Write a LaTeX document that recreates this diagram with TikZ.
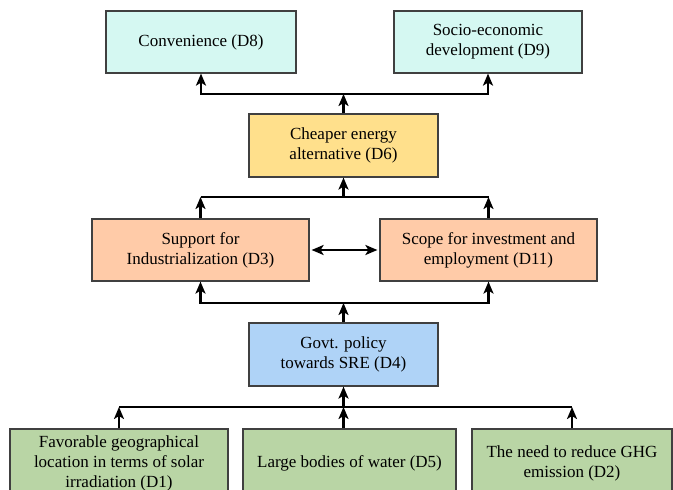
\documentclass[tikz,border=0pt]{standalone}
\usepackage{fontspec}
\setmainfont{Liberation Serif}
\newfontfamily\boxfont{Liberation Serif}
\usetikzlibrary{arrows.meta}
\definecolor{cyanbox}{HTML}{D5F8F2}
\definecolor{yellowbox}{HTML}{FFE08C}
\definecolor{peachbox}{HTML}{FFCBA8}
\definecolor{bluebox}{HTML}{AFD3F7}
\definecolor{greenbox}{HTML}{B9D5A5}
\definecolor{edge}{HTML}{404040}

\begin{document}
\begin{tikzpicture}
[x=1pt, y=-1pt, font=\boxfont\fontsize{17}{20}\selectfont,
factor/.style={draw=edge, line width=1.2pt, align=center, inner sep=0pt, minimum height=62pt},
link/.style={line width=2.2pt, -{Stealth[length=12pt,width=10pt,inset=3pt]}},
bus/.style={line width=2.2pt}]
\useasboundingbox (0,0) rectangle (673,490);
\clip (0,0) rectangle (673,490);

% top level
\node[factor, fill=cyanbox, minimum width=190pt] (d8) at (201,42) {Convenience (D8)};
\node[factor, fill=cyanbox, minimum width=188pt] (d9) at (488,42) {Socio-economic\\development (D9)};
\node[factor, fill=yellowbox, minimum width=189pt, minimum height=63pt] (d6) at (343.5,145.5) {Cheaper energy\\alternative (D6)};
% middle level
\node[factor, fill=peachbox, minimum width=217pt] (d3) at (200.5,250) {Support for\\Industrialization (D3)};
\node[factor, fill=peachbox, minimum width=217pt] (d11) at (488.5,250) {Scope for investment and\\employment (D11)};
\node[factor, fill=bluebox, minimum width=189pt, minimum height=63pt] (d4) at (343.5,354.5) {Govt. policy\\towards SRE (D4)};
% bottom level
\node[factor, fill=greenbox, minimum width=218pt, minimum height=68pt] (d1) at (119,463) {Favorable geographical\\location in terms of solar\\irradiation (D1)};
\node[factor, fill=greenbox, minimum width=213pt, minimum height=68pt] (d5) at (349.5,463) {Large bodies of water (D5)};
\node[factor, fill=greenbox, minimum width=200pt, minimum height=68pt] (d2) at (572,463) {The need to reduce GHG\\emission (D2)};

\coordinate (b1) at (343.5,94);
\coordinate (b2) at (343.5,197);
\coordinate (b3) at (343.5,303);
\coordinate (b4) at (343.5,407);

% D6 -> D8, D9
\draw[link] (d6.north) -- (b1);
\draw[link] (b1) -| (d8.south);
\draw[link] (b1) -| (d9.south);
% D3, D11 -> D6
\draw[bus] (d3.north |- b2) -- (d11.north |- b2);
\draw[link] (d3.north) -- (d3.north |- b2);
\draw[link] (d11.north) -- (d11.north |- b2);
\draw[link] (b2) -- (d6.south);
\draw[line width=2.2pt, {Stealth[length=12pt,width=10pt,inset=3pt]}-{Stealth[length=12pt,width=10pt,inset=3pt]}, shorten <=2pt, shorten >=2pt] (d3.east) -- (d11.west);
% D4 -> D3, D11
\draw[link] (d4.north) -- (b3);
\draw[link] (b3) -| (d3.south);
\draw[link] (b3) -| (d11.south);
% D1, D5, D2 -> D4
\draw[bus] (d1.north |- b4) -- (d2.north |- b4);
\draw[link] (d1.north) -- (d1.north |- b4);
\draw[link] (d5.north -| b4) -- (b4);
\draw[link] (d2.north) -- (d2.north |- b4);
\draw[link] (b4) -- (d4.south);
\end{tikzpicture}
\end{document}
